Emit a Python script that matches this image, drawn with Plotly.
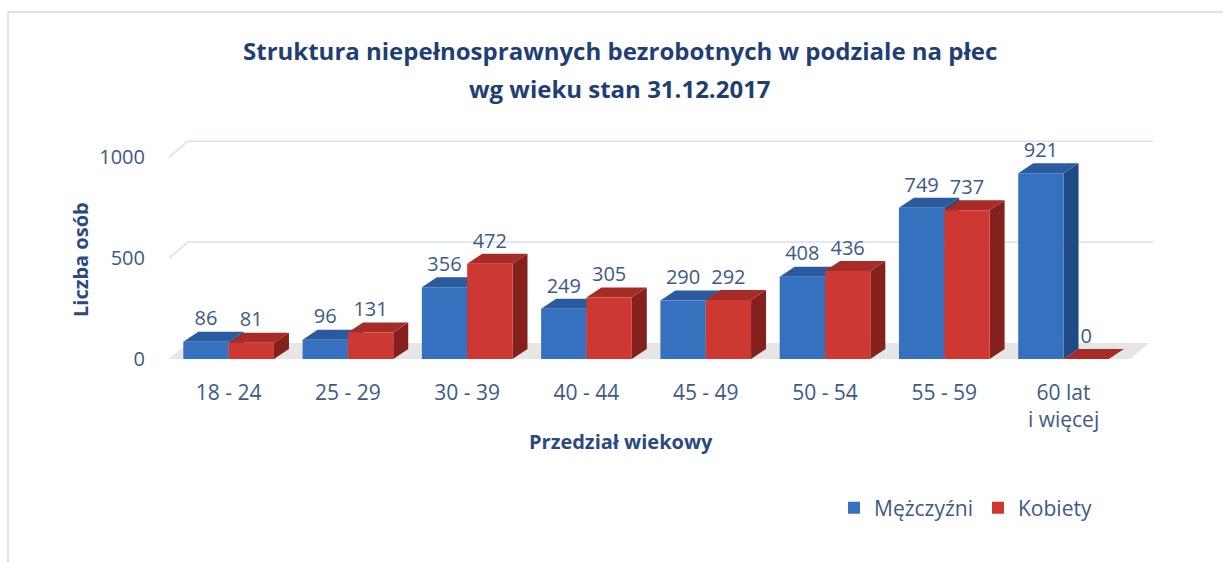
import plotly.graph_objects as go

categories = ["18 - 24", "25 - 29", "30 - 39", "40 - 44", "45 - 49", "50 - 54", "55 - 59", "60 lat<br>i więcej"]
men = [86, 96, 356, 249, 290, 408, 749, 921]
women = [81, 131, 472, 305, 292, 436, 737, 0]
y_ticks = [0, 500, 1000]

FONT = "Open Sans"
TXT = "#3d5a86"
NAVY = "#1f3f74"

W, H = 1223, 562
L, R, T, B = 169, 1153, 137, 359
XR = [-0.5, 7.75]
YR = [0, 1100]
pxx = (R - L) / (XR[1] - XR[0])
pxy = (B - T) / (YR[1] - YR[0])

bw = 0.38
ddx, ddy = 15 / pxx, 10 / pxy      # bar depth
wdx, wdy = 19 / pxx, 16 / pxy      # wall depth

xs = list(range(len(categories)))

def px_to_paper_x(p):
    return (p - L) / (R - L)

def px_to_paper_y(p):
    return (B - p) / (B - T)

fig = go.Figure()
fig.add_trace(go.Bar(x=xs, y=men, name="Mężczyźni", offset=-bw, width=bw,
                     marker=dict(color="#3571bf", line=dict(width=0))))
fig.add_trace(go.Bar(x=xs, y=women, name="Kobiety", offset=0, width=bw,
                     marker=dict(color="#cd3833", line=dict(width=0))))

lab_font = dict(family=FONT, size=20, color=TXT)
fig.add_trace(go.Scatter(x=[i - bw / 2 for i in xs], y=[v + ddy + 6 for v in men],
                         mode="text", text=[str(v) for v in men], textposition="top center",
                         textfont=lab_font, showlegend=False, hoverinfo="skip", cliponaxis=False))
fig.add_trace(go.Scatter(x=[i + bw / 2 for i in xs], y=[v + ddy + 6 for v in women],
                         mode="text", text=[str(v) for v in women], textposition="top center",
                         textfont=lab_font, showlegend=False, hoverinfo="skip", cliponaxis=False))

shapes = []
# floor
x0f, x1f = -0.5, XR[0] + (1130 - L) / pxx
shapes.append(dict(type="path", xref="x", yref="y", layer="below",
                   path=f"M {x0f},0 L {x1f},0 L {x1f + wdx},{wdy} L {x0f + wdx},{wdy} Z",
                   fillcolor="rgba(205,205,205,0.5)", line=dict(width=0)))
# back-wall gridlines
for v in y_ticks[1:]:
    shapes.append(dict(type="path", xref="x", yref="y", layer="below",
                       path=f"M {XR[0]},{v} L {XR[0] + wdx},{v + wdy} L {XR[1]},{v + wdy}",
                       line=dict(color="#d5e1ef", width=1.5)))

def faces(x0, x1, v, top_col, side_col):
    out = []
    out.append(dict(type="path", xref="x", yref="y", layer="below",
                    path=f"M {x1},0 L {x1 + ddx},{ddy} L {x1 + ddx},{v + ddy} L {x1},{v} Z",
                    fillcolor=side_col, line=dict(width=0)))
    out.append(dict(type="path", xref="x", yref="y", layer="below",
                    path=f"M {x0},{v} L {x1},{v} L {x1 + ddx},{v + ddy} L {x0 + ddx},{v + ddy} Z",
                    fillcolor=top_col, line=dict(width=0)))
    return out

for i, v in zip(xs, men):
    shapes += faces(i - bw, i, v, "#2a5b9e", "#1f4a84")
for i, v in zip(xs, women):
    shapes += faces(i, i + bw, v, "#a72b27", "#84211d")

# outer border
bx = px_to_paper_x(8)
by = px_to_paper_y(12)
shapes.append(dict(type="line", xref="paper", yref="paper", x0=bx, x1=px_to_paper_x(W), y0=by, y1=by,
                   line=dict(color="#d9e3ef", width=2)))
shapes.append(dict(type="line", xref="paper", yref="paper", x0=bx, x1=bx, y0=by, y1=px_to_paper_y(H),
                   line=dict(color="#d9e3ef", width=2)))

annotations = [
    dict(text="<b>Struktura niepełnosprawnych bezrobotnych w podziale na płec</b>", x=px_to_paper_x(620),
         y=px_to_paper_y(50), xref="paper", yref="paper", showarrow=False, xanchor="center", yanchor="middle",
         font=dict(family=FONT, size=24, color=NAVY)),
    dict(text="<b>wg wieku stan 31.12.2017</b>", x=px_to_paper_x(620),
         y=px_to_paper_y(88), xref="paper", yref="paper", showarrow=False, xanchor="center", yanchor="middle",
         font=dict(family=FONT, size=24, color=NAVY)),
    dict(text="<b>Przedział wiekowy</b>", x=px_to_paper_x(621), y=px_to_paper_y(441), xref="paper", yref="paper",
         showarrow=False, xanchor="center", yanchor="middle", font=dict(family=FONT, size=20, color="#2a4a7e")),
    dict(text="<b>Liczba osób</b>", x=px_to_paper_x(80), y=px_to_paper_y(260), xref="paper", yref="paper",
         showarrow=False, xanchor="center", yanchor="middle", textangle=-90,
         font=dict(family=FONT, size=20, color="#2a4a7e")),
]

fig.update_layout(
    width=W, height=H,
    margin=dict(l=L, r=W - R, t=T, b=H - B),
    paper_bgcolor="white", plot_bgcolor="white",
    barmode="overlay",
    showlegend=True,
    legend=dict(orientation="h", x=px_to_paper_x(834), y=px_to_paper_y(508), xanchor="left", yanchor="middle",
                font=dict(family=FONT, size=21, color=TXT), itemwidth=30, traceorder="normal"),
    shapes=shapes,
    annotations=annotations,
    xaxis=dict(range=XR, tickmode="array", tickvals=xs, ticktext=categories, showgrid=False, zeroline=False,
               showline=False, ticks="", tickfont=dict(family=FONT, size=21, color=TXT), ticklabelstandoff=19,
               fixedrange=True),
    yaxis=dict(range=YR, tickmode="array", tickvals=y_ticks, ticktext=[str(v) for v in y_ticks], showgrid=False,
               zeroline=False, showline=False, ticks="", tickfont=dict(family=FONT, size=20, color=TXT),
               ticklabelstandoff=23, fixedrange=True),
)

fig.write_html("out.html", config={"displayModeBar": False},
               post_script="document.body.style.margin='0px';document.body.style.overflow='hidden';")
